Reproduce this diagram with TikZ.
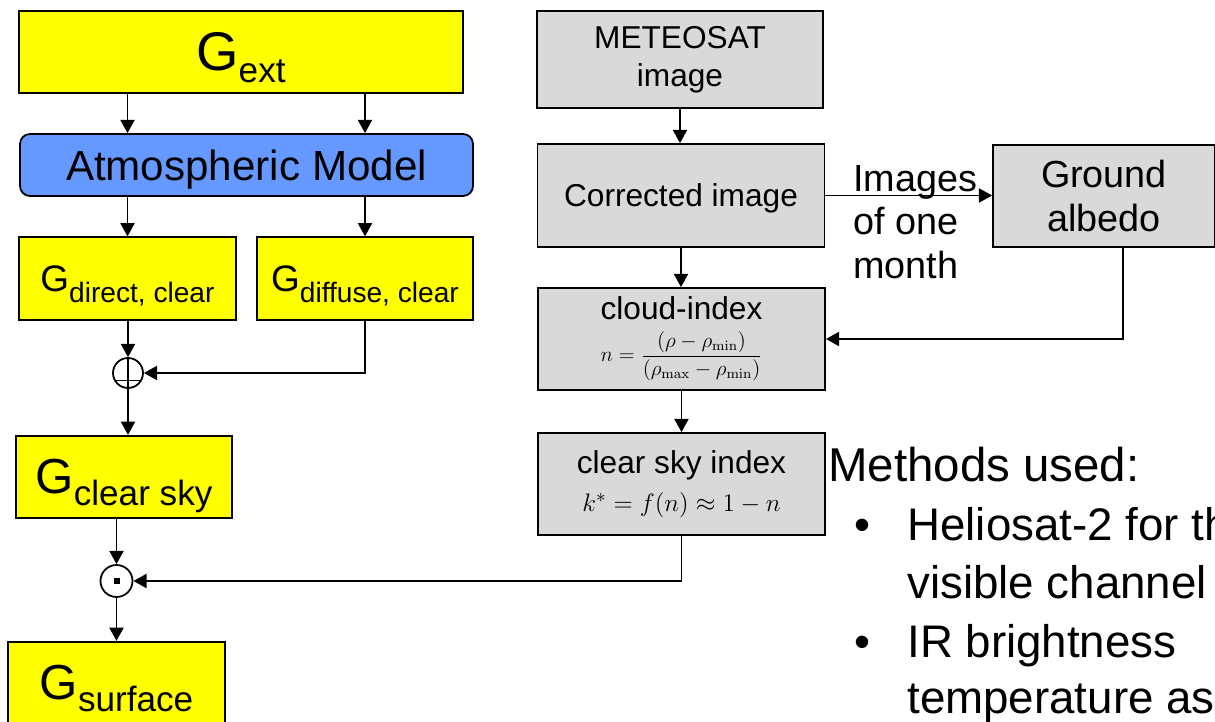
\documentclass[tikz,border=0pt]{standalone}
\usepackage[no-math]{fontspec}
\setmainfont{Liberation Sans}
\usetikzlibrary{arrows.meta}
\definecolor{boxyellow}{RGB}{255,255,0}
\definecolor{modelblue}{RGB}{102,153,255}
\definecolor{satgray}{RGB}{217,217,217}
\newcommand{\Gsym}[3]{{\fontsize{#1}{#1}\selectfont G}\raisebox{-6.5pt}[0pt][0pt]{\fontsize{#2}{#2}\selectfont #3}}

\begin{document}
\begin{tikzpicture}[
    every node/.style={inner sep=0pt},
    gbox/.style={draw, line width=1pt, fill=boxyellow, minimum width=4.33cm, minimum height=1.65cm},
    satbox/.style={draw, line width=1pt, fill=satgray, align=center, minimum width=5.74cm, minimum height=2.04cm, font=\fontsize{18}{21.6}\selectfont},
    arr/.style={line width=1pt, -{Triangle[length=7.5pt,width=8pt]}},
    link/.style={line width=1pt},
    methods/.style={font=\fontsize{26}{32}\selectfont, anchor=base west}
]
    \useasboundingbox (0,0) rectangle (24.3,-14.44);
    \clip (0,0) rectangle (24.3,-14.44);

    % irradiance chain
    \node[gbox, minimum width=8.88cm, minimum height=1.64cm] (gext) at (4.82,-1.04) {\Gsym{31}{20}{ext}};
    \node[draw, line width=1pt, fill=modelblue, rounded corners=0.2cm, minimum width=9.06cm, minimum height=1.24cm, text depth=0pt, font=\fontsize{24}{28}\selectfont] (atmo) at (4.93,-3.30) {Atmospheric Model};
    \node[gbox] (gdir) at (2.55,-5.57) {\Gsym{21}{16}{direct, clear}};
    \node[gbox] (gdif) at (7.30,-5.57) {\Gsym{21}{16}{diffuse, clear}};
    \node[draw, circle, line width=1pt, minimum size=0.6cm] (plus) at (2.56,-7.46) {};
    \draw[link] (plus.north) -- (plus.south);
    \draw[link] ([yshift=-0.15cm]plus.center) +(-0.26,0) -- +(0.26,0);
    \node[gbox] (gclr) at (2.48,-9.54) {\Gsym{28}{20}{clear sky}};
    \node[draw, circle, line width=1pt, minimum size=0.64cm] (dot) at (2.33,-11.62) {};
    \fill (dot.center) +(-0.06,-0.06) rectangle +(0.06,0.06);
    \node[gbox] (gsurf) at (2.33,-13.66) {\Gsym{28}{20}{surface}};

    \draw[arr] (gext.south -| gdir) -- (atmo.north -| gdir);
    \draw[arr] (gext.south -| gdif) -- (atmo.north -| gdif);
    \draw[arr] (atmo.south -| gdir) -- (gdir.north);
    \draw[arr] (atmo.south -| gdif) -- (gdif.north);
    \draw[arr] (gdir.south -| plus) -- (plus.north);
    \draw[arr] (gdif.south) |- (plus.east);
    \draw[arr] (plus.south) -- (plus.south |- gclr.north);
    \draw[arr] (gclr.south -| dot) -- (dot.north);
    \draw[arr] (dot.south) -- (gsurf.north);

    % satellite chain
    \node[satbox, minimum width=5.72cm, minimum height=1.94cm] (met) at (13.60,-1.19) {METEOSAT\\image};
    \node[satbox, minimum height=2.06cm, text depth=0pt] (cor) at (13.62,-3.91) {Corrected image};
    \node[satbox] (cloud) at (13.63,-6.78) {cloud-index\\[2pt]{\fontsize{11.5}{13}\selectfont$\displaystyle n=\frac{(\rho-\rho_{\min})}{(\rho_{\max}-\rho_{\min})}$}};
    \node[satbox] (csi) at (13.63,-9.68) {clear sky index\\{\fontsize{15}{18}\selectfont$k^*=f(n)\approx1-n$}};
    \node[satbox, minimum width=4.44cm, font=\fontsize{21.5}{24.5}\selectfont] (alb) at (22.08,-3.92) {Ground\\albedo};
    \node[font=\fontsize{21.5}{24.7}\selectfont, align=left, anchor=north west] (imgs) at (17.06,-3.30) {Images\\of one\\month};

    \draw[arr] (met.south) -- (met.south |- cor.north);
    \draw[arr] (cor.south) -- (cor.south |- cloud.north);
    \draw[arr] (cloud.south) -- (cloud.south |- csi.north);
    \draw[arr] (cor.east) -- (cor.east -| alb.west);
    \draw[arr] ([xshift=0.38cm]alb.south) |- (cloud.east);
    \draw[arr] (csi.south) |- (dot.east);

    % notes
    \node[methods, font=\fontsize{27}{33}\selectfont] (mth) at (16.56,-9.64) {Methods used:};
    \node[methods] (bul1) at (17.08,-10.80) {\textbullet};
    \node[methods] (m1) at (18.14,-10.80) {Heliosat-2 for th};
    \node[methods] (m2) at (18.14,-11.96) {visible channel};
    \node[methods] (bul2) at (17.08,-13.14) {\textbullet};
    \node[methods] (m3) at (18.14,-13.14) {IR brightness};
    \node[methods] (m4) at (18.14,-14.26) {temperature as};
\end{tikzpicture}
\end{document}
